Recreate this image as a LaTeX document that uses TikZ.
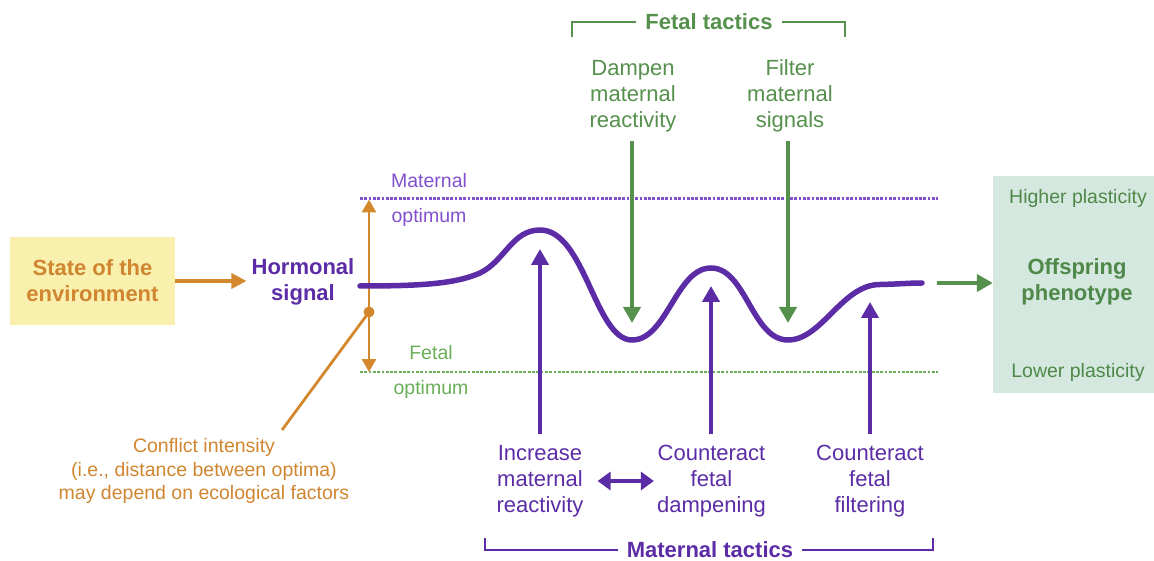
\documentclass[tikz,border=0pt]{standalone}
\usepackage{fontspec}
\setmainfont{Liberation Sans}
\usetikzlibrary{arrows.meta,calc}
\definecolor{orng}{HTML}{D4882E}
\definecolor{orngtxt}{HTML}{D08530}
\definecolor{yellowbg}{HTML}{F9F0AE}
\definecolor{purp}{HTML}{5B2CA6}
\definecolor{lpurp}{HTML}{8250CC}
\definecolor{dgreen}{HTML}{55904C}
\definecolor{lgreen}{HTML}{6AAE58}
\definecolor{boxbg}{HTML}{D4E8DF}
\definecolor{boxtxt}{HTML}{4F8848}
\newcommand\fbig{\fontsize{22}{26}\selectfont}
\newcommand\fsmall{\fontsize{19.5}{23.5}\selectfont}
\begin{document}
\begin{tikzpicture}[x=1pt,y=-1pt,
  lbl/.style={align=center, inner sep=0pt},
  oarrow/.style={draw=orng, line width=3.2pt, -{Triangle[width=15pt,length=15pt]}},
  odbl/.style={draw=orng, line width=2.8pt, {Triangle[width=14pt,length=13pt]}-{Triangle[width=14pt,length=13pt]}},
  parrow/.style={draw=purp, line width=4pt, -{Triangle[width=17pt,length=16pt]}},
  pdbl/.style={draw=purp, line width=4.5pt, {Triangle[width=18pt,length=13pt]}-{Triangle[width=18pt,length=13pt]}},
  garrow/.style={draw=dgreen, line width=4pt, -{Triangle[width=17pt,length=16pt]}},
  mdots/.style={draw=lpurp, line width=2.8pt, dash pattern=on 2.8pt off 1.5pt},
  fdots/.style={draw=lgreen, line width=2.8pt, dash pattern=on 2.8pt off 1.5pt},
  gbrack/.style={draw=dgreen, line width=2.5pt},
  pbrack/.style={draw=purp, line width=2.5pt},
  curve/.style={draw=purp, line width=5.5pt, line cap=round}
]
\useasboundingbox (0,0) rectangle (1154,561);

% left boxes
\node[fill=yellowbg, minimum width=165pt, minimum height=88pt, inner sep=0pt,
      font=\fbig\bfseries, text=orngtxt, align=center] (env) at (92.5,281) {State of the\\environment};
\node[lbl, font=\fbig\bfseries, text=purp, inner xsep=5pt] (hs) at (303,282) {Hormonal\\signal};
\draw[oarrow] (env.east) -- (env.east -| hs.west);

% optimum lines
\coordinate (ml1) at (360,198.5);
\coordinate (ml2) at (938,198.5);
\coordinate (fl1) at (360,372);
\coordinate (fl2) at (938,372);
\draw[mdots] (ml1) -- (ml2);
\draw[fdots] (fl1) -- (fl2);
\node[lbl, font=\fsmall, text=lpurp] (matl) at (429,181) {Maternal};
\node[lbl, font=\fsmall, text=lpurp] (mato) at (429,217) {optimum};
\node[lbl, font=\fsmall, text=lgreen] (fetl) at (431,353) {Fetal};
\node[lbl, font=\fsmall, text=lgreen] (feto) at (431,389) {optimum};

% conflict
\coordinate (otop) at (369,199.5);
\coordinate (obot) at (369,372);
\coordinate (dot) at (369,312);
\draw[odbl] (obot) -- (otop);
\fill[orng] (dot) circle (5.5pt);
\node[lbl, font=\fsmall, text=orngtxt] (conf) at (204,471) {Conflict intensity\\(i.e., distance between optima)\\may depend on ecological factors};
\coordinate (cl) at (282,430);
\draw[draw=orng, line width=2.8pt] (dot) -- (cl);

% hormonal curve
\coordinate (c0) at (360,286);
\coordinate (c1) at (480,273);
\coordinate (pk1) at (540,230);
\coordinate (tr1) at (632,340);
\coordinate (pk2) at (711,268);
\coordinate (tr2) at (788,340);
\coordinate (c5) at (880,284.5);
\coordinate (c6) at (922,283);
\draw[curve] (c0) .. controls (420,286) and (455,284) .. (c1)
  .. controls (505,261) and (512,230) .. (pk1)
  .. controls (585,230) and (595,340) .. (tr1)
  .. controls (667,340) and (676,268) .. (pk2)
  .. controls (746,268) and (752,340) .. (tr2)
  .. controls (822,340) and (842,284.5) .. (c5)
  .. controls (900,284) and (910,283) .. (c6);

% offspring box
\node[fill=boxbg, minimum width=163pt, minimum height=217pt, inner sep=0pt] (box) at (1074.5,284.5) {};
\node[lbl, font=\fsmall, text=boxtxt] (hp) at (1078,198) {Higher plasticity};
\node[lbl, font=\fbig\bfseries, text=boxtxt] (off) at (1077,282) {Offspring\\phenotype};
\node[lbl, font=\fsmall, text=boxtxt] (lp) at (1078,372) {Lower plasticity};
\coordinate (ge) at (937,283);
\draw[garrow] (ge) -- (ge -| box.west);

% fetal tactics
\node[lbl, font=\fbig\bfseries, text=dgreen, inner xsep=9pt] (ft) at (709,22) {Fetal tactics};
\coordinate (ftl) at (572,37);
\coordinate (ftr) at (845,37);
\draw[gbrack] (ftl) |- (ft.west);
\draw[gbrack] (ftr) |- (ft.east);
\node[lbl, font=\fbig, text=dgreen, inner ysep=9pt] (dmp) at (633,96) {Dampen\\maternal\\reactivity};
\node[lbl, font=\fbig, text=dgreen, inner ysep=9pt] (flt) at (790,96) {Filter\\maternal\\signals};
\coordinate (gt1) at (632,323);
\coordinate (gt2) at (788,323);
\draw[garrow] (gt1 |- dmp.south) -- (gt1);
\draw[garrow] (gt2 |- flt.south) -- (gt2);

% maternal tactics
\node[lbl, font=\fbig, text=purp, inner ysep=11pt] (inc) at (540,481) {Increase\\maternal\\reactivity};
\node[lbl, font=\fbig, text=purp, inner ysep=11pt] (cfd) at (711.5,481) {Counteract\\fetal\\dampening};
\node[lbl, font=\fbig, text=purp, inner ysep=11pt] (cff) at (870,481) {Counteract\\fetal\\filtering};
\coordinate (pt1) at (540,249);
\coordinate (pt2) at (711,286);
\coordinate (pt3) at (870,302);
\draw[parrow] (pt1 |- inc.north) -- (pt1);
\draw[parrow] (pt2 |- cfd.north) -- (pt2);
\draw[parrow] (pt3 |- cff.north) -- (pt3);
\draw[pdbl, shorten <=14pt, shorten >=3pt] (inc.east) -- (inc.east -| cfd.west);

\node[lbl, font=\fbig\bfseries, text=purp, inner xsep=9pt] (mt) at (710,550) {Maternal tactics};
\coordinate (mtl) at (485,538);
\coordinate (mtr) at (933,538);
\draw[pbrack] (mtl) |- (mt.west);
\draw[pbrack] (mtr) |- (mt.east);
\end{tikzpicture}
\end{document}
